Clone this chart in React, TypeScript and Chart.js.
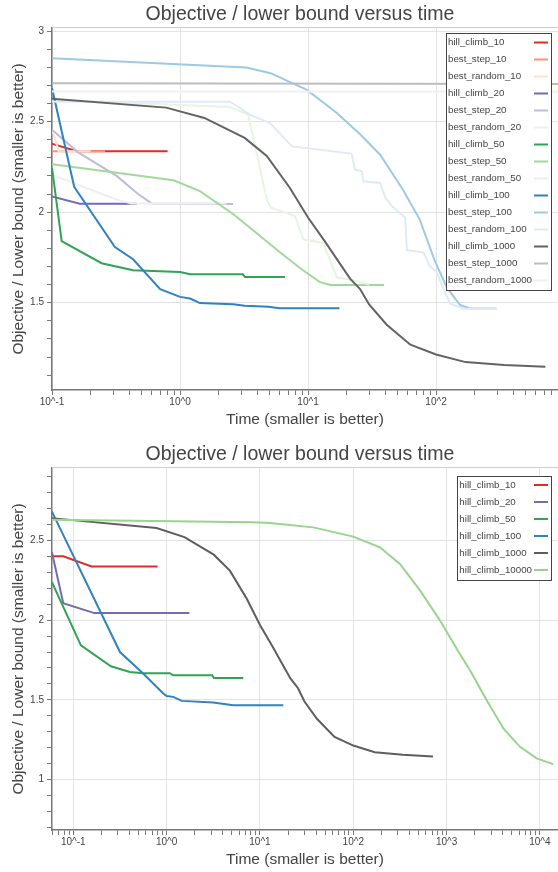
import React, { useEffect, useRef } from 'react';
import { Chart, registerables } from 'chart.js';

Chart.register(...registerables);

const FONT = "'Liberation Sans', Arial, Helvetica, sans-serif";

// ---------- top chart data ----------
const timeHc10 = [0.059, 0.078, 0.157, 0.8];
const valHc10 = [2.4, 2.4, 2.336, 2.336];
const timeBs10 = [0.1, 0.26];
const valBs10 = [2.336, 2.336];
const timeBr10 = [0.1, 0.113, 0.2];
const valBr10 = [2.455, 2.336, 2.336];
const timeHc20Top = [0.059, 0.078, 0.165, 0.46];
const valHc20Top = [2.425, 2.106, 2.046, 2.046];
const timeBs20 = [0.1, 0.16, 0.32, 0.47, 0.6, 2.6];
const valBs20 = [2.455, 2.33, 2.2, 2.1, 2.048, 2.045];
const timeBr20 = [0.1, 0.17, 0.32, 0.42, 2.3];
const valBr20 = [2.207, 2.143, 2.07, 2.048, 2.048];
const timeHc50Top = [0.1, 0.119, 0.244, 0.43, 1.0, 1.2, 3.09, 3.22, 6.6];
const valHc50Top = [2.245, 1.84, 1.718, 1.679, 1.67, 1.657, 1.657, 1.642, 1.642];
const timeBs50 = [0.1, 0.89, 1.43, 2.6, 4.2, 6.0, 8.7, 12.3, 14.9, 39.3];
const valBs50 = [2.264, 2.176, 2.116, 1.99, 1.87, 1.78, 1.69, 1.615, 1.598, 1.598];
const timeBr50 = [0.1, 2.46, 3.4, 4.8, 5.1, 7.9, 9.2, 13.1, 16.8, 24, 30];
const valBr50 = [2.62, 2.58, 2.54, 2.06, 2.024, 1.98, 1.85, 1.83, 1.64, 1.62, 1.6];
const timeHc100Top = [0.1, 0.149, 0.31, 0.43, 0.7, 1.0, 1.2, 1.43, 2.6, 3.2, 4.9, 6.0, 17.6];
const valHc100Top = [2.685, 2.14, 1.807, 1.74, 1.575, 1.532, 1.523, 1.498, 1.492, 1.483, 1.477, 1.47, 1.47];
const timeBs100 = [0.1, 3.3, 5.1, 9.8, 16.8, 25.5, 36.6, 55, 74.5, 98, 121, 154, 185, 296];
const valBs100 = [2.85, 2.798, 2.767, 2.675, 2.547, 2.43, 2.317, 2.125, 1.96, 1.73, 1.586, 1.487, 1.468, 1.468];
const timeBr100 = [0.1, 2.46, 3.5, 5.06, 7.5, 21.9, 23.3, 26.3, 27.1, 36.6, 40.2, 45.4, 57.4, 59.2, 80, 89, 101, 114, 129, 164, 296];
const valBr100 = [2.61, 2.61, 2.54, 2.49, 2.363, 2.323, 2.235, 2.226, 2.17, 2.161, 2.079, 2.033, 1.97, 1.79, 1.777, 1.703, 1.67, 1.58, 1.495, 1.466, 1.466];
const timeHc1000 = [0.059, 0.092, 0.78, 1.55, 3.2, 4.76, 7.2, 10, 13.5, 17, 21.3, 25.5, 30, 41, 63, 100, 170, 340, 715];
const valHc1000 = [2.638, 2.628, 2.577, 2.52, 2.41, 2.31, 2.135, 1.97, 1.84, 1.735, 1.633, 1.575, 1.49, 1.38, 1.268, 1.214, 1.172, 1.156, 1.146];
const timeBs1000 = [0.1, 1000];
const valBs1000 = [2.712, 2.707];
const timeBr1000 = [0.1, 1000];
const valBr1000 = [2.666, 2.664];

// ---------- bottom chart data ----------
const timeHc20Bot = [0.059, 0.078, 0.168, 1.75];
const valHc20Bot = [2.425, 2.106, 2.044, 2.044];
const timeHc50Bot = [0.059, 0.1206, 0.253, 0.404, 0.561, 1.08, 1.177, 3.08, 3.21, 6.62];
const valHc50Bot = [2.238, 1.842, 1.711, 1.675, 1.667, 1.667, 1.654, 1.654, 1.6375, 1.6375];
const timeHc100Bot = [0.059, 0.316, 0.56, 0.92, 1.0, 1.18, 1.45, 3.16, 5.17, 17.8];
const valHc100Bot = [2.68, 1.8, 1.665, 1.54, 1.525, 1.519, 1.494, 1.484, 1.467, 1.467];
const timeHc10000 = [0.059, 8.5, 12.8, 37.3, 100, 193, 316, 519, 851, 1283, 1782, 2690, 4060, 6120, 9240, 13900];
const valHc10000 = [2.628, 2.6125, 2.609, 2.581, 2.523, 2.456, 2.352, 2.186, 1.998, 1.82, 1.686, 1.498, 1.321, 1.206, 1.134, 1.098];

// ---------- labels & colours ----------
const TITLE = 'Objective / lower bound versus time';
const X_TITLE = 'Time (smaller is better)';
const Y_TITLE = 'Objective / Lower bound (smaller is better)';

type Series = { label: string; color: string; t: number[]; v: number[] };

const topSeries: Series[] = [
  { label: 'hill_climb_10', color: '#de2d26', t: timeHc10, v: valHc10 },
  { label: 'best_step_10', color: '#fc9272', t: timeBs10, v: valBs10 },
  { label: 'best_random_10', color: '#fee0d2', t: timeBr10, v: valBr10 },
  { label: 'hill_climb_20', color: '#756bb1', t: timeHc20Top, v: valHc20Top },
  { label: 'best_step_20', color: '#bcbddc', t: timeBs20, v: valBs20 },
  { label: 'best_random_20', color: '#efedf5', t: timeBr20, v: valBr20 },
  { label: 'hill_climb_50', color: '#31a354', t: timeHc50Top, v: valHc50Top },
  { label: 'best_step_50', color: '#a1d99b', t: timeBs50, v: valBs50 },
  { label: 'best_random_50', color: '#e5f5e0', t: timeBr50, v: valBr50 },
  { label: 'hill_climb_100', color: '#3182bd', t: timeHc100Top, v: valHc100Top },
  { label: 'best_step_100', color: '#9ecae1', t: timeBs100, v: valBs100 },
  { label: 'best_random_100', color: '#deebf7', t: timeBr100, v: valBr100 },
  { label: 'hill_climb_1000', color: '#636363', t: timeHc1000, v: valHc1000 },
  { label: 'best_step_1000', color: '#bdbdbd', t: timeBs1000, v: valBs1000 },
  { label: 'best_random_1000', color: '#f0f0f0', t: timeBr1000, v: valBr1000 },
];

const bottomSeries: Series[] = [
  { label: 'hill_climb_10', color: '#de2d26', t: timeHc10, v: valHc10 },
  { label: 'hill_climb_20', color: '#756bb1', t: timeHc20Bot, v: valHc20Bot },
  { label: 'hill_climb_50', color: '#31a354', t: timeHc50Bot, v: valHc50Bot },
  { label: 'hill_climb_100', color: '#3182bd', t: timeHc100Bot, v: valHc100Bot },
  { label: 'hill_climb_1000', color: '#5e5e5e', t: timeHc1000, v: valHc1000 },
  { label: 'hill_climb_10000', color: '#98d48e', t: timeHc10000, v: valHc10000 },
];

// ---------- helpers ----------
const isPow10 = (v: number) => {
  if (!(v > 0)) return false;
  const l = Math.log10(v);
  return Math.abs(l - Math.round(l)) < 1e-9;
};

function logTicks(min: number, max: number) {
  const out: number[] = [];
  for (let e = Math.floor(Math.log10(min)); e <= Math.ceil(Math.log10(max)); e++) {
    for (let m = 1; m <= 9; m++) {
      const v = m * Math.pow(10, e);
      if (v >= min * (1 - 1e-9) && v <= max) out.push(v);
    }
  }
  return out;
}

function linTicks(min: number, max: number) {
  const out: number[] = [];
  for (let k = Math.ceil(min * 10 - 1e-9); k <= Math.floor(max * 10 + 1e-9); k++) out.push(Math.round(k) / 10);
  return out;
}
const isHalf = (v: number) => Math.abs(v * 2 - Math.round(v * 2)) < 1e-6;

const decorPlugin = {
  id: 'decor',
  afterDraw(chart: any, _args: any, opts: any) {
    const ctx = chart.ctx;
    const a = chart.chartArea;
    ctx.save();
    // top outline
    ctx.strokeStyle = '#cfcfcf';
    ctx.lineWidth = 1;
    ctx.beginPath();
    ctx.moveTo(a.left, Math.round(a.top) - 0.5);
    ctx.lineTo(a.right, Math.round(a.top) - 0.5);
    ctx.stroke();
    // title
    ctx.fillStyle = '#444';
    ctx.font = `19.5px ${FONT}`;
    ctx.textAlign = 'center';
    ctx.textBaseline = 'middle';
    ctx.fillText(TITLE, opts.titleX, opts.titleY);
    // legend
    const ds = chart.data.datasets;
    ctx.font = `9.75px ${FONT}`;
    let maxW = 0;
    ds.forEach((d: any) => { maxW = Math.max(maxW, ctx.measureText(d.label).width); });
    const right = opts.legendRight;
    const top = opts.legendTop;
    const sampleW = 14;
    const left = right - 3 - sampleW - 2 - maxW - 2;
    const h = ds.length * 17 + 2;
    ctx.fillStyle = '#ffffff';
    ctx.fillRect(left, top, right - left, h);
    ctx.strokeStyle = '#444';
    ctx.lineWidth = 1;
    ctx.strokeRect(Math.round(left) + 0.5, Math.round(top) + 0.5, Math.round(right - left), Math.round(h));
    ds.forEach((d: any, i: number) => {
      const y = top + 9.5 + i * 17;
      ctx.fillStyle = '#444';
      ctx.textAlign = 'left';
      ctx.textBaseline = 'middle';
      ctx.fillText(d.label, left + 2, y);
      ctx.strokeStyle = d.borderColor;
      ctx.lineWidth = 2;
      ctx.beginPath();
      ctx.moveTo(right - 3 - sampleW, y);
      ctx.lineTo(right - 3, y);
      ctx.stroke();
    });
    ctx.restore();
  },
};

function buildConfig(series: Series[], xMin: number, xMax: number, yMin: number, yMax: number, legendTop: number) {
  const n = series.length;
  return {
    type: 'line' as const,
    data: {
      datasets: series.map((s, i) => ({
        label: s.label,
        data: s.t.map((t, k) => ({ x: t, y: s.v[k] })),
        borderColor: s.color,
        backgroundColor: s.color,
        borderWidth: 2,
        pointRadius: 0,
        tension: 0,
        fill: false,
        order: n - i,
      })),
    },
    options: {
      animation: false,
      responsive: false,
      maintainAspectRatio: false,
      parsing: true,
      layout: { padding: { top: 28, left: 0, right: 0, bottom: 0 } },
      plugins: {
        legend: { display: false },
        title: { display: false },
        tooltip: { enabled: false },
        decor: { titleX: 300, titleY: 15, legendRight: 551, legendTop },
      },
      scales: {
        x: {
          type: 'logarithmic',
          min: xMin,
          max: xMax,
          bounds: 'data',
          afterBuildTicks: (scale: any) => {
            scale.ticks = logTicks(xMin, xMax).map((v) => ({ value: v, major: isPow10(v) }));
          },
          afterFit: (scale: any) => {
            scale.height = 50;
            scale.paddingLeft = 0;
            scale.paddingRight = 0;
            scale.paddingTop = 0;
            scale.paddingBottom = 0;
          },
          ticks: {
            autoSkip: false,
            maxRotation: 0,
            minRotation: 0,
            padding: 1,
            color: '#444',
            font: { size: 10, family: FONT },
            callback: (val: any) => {
              const v = Number(val);
              return isPow10(v) ? '10^' + Math.round(Math.log10(v)) : '';
            },
          },
          grid: {
            color: (c: any) => (c.tick && isPow10(c.tick.value) ? '#e2e2e2' : 'rgba(0,0,0,0)'),
            tickColor: '#777',
            tickLength: 5,
            drawTicks: true,
            lineWidth: 1,
          },
          border: { color: '#777', width: 1.5 },
          title: {
            display: true,
            text: X_TITLE,
            color: '#444',
            font: { size: 15.5, family: FONT },
            padding: { top: 0, bottom: 10.7 },
          },
        },
        y: {
          type: 'linear',
          min: yMin,
          max: yMax,
          bounds: 'data',
          afterBuildTicks: (scale: any) => {
            scale.ticks = linTicks(yMin, yMax).map((v) => ({ value: v }));
          },
          afterFit: (scale: any) => {
            scale.width = 52;
            scale.paddingTop = 0;
            scale.paddingBottom = 0;
            scale.paddingLeft = 0;
            scale.paddingRight = 0;
          },
          ticks: {
            autoSkip: false,
            padding: 3,
            color: '#444',
            font: { size: 10, family: FONT },
            callback: (val: any) => {
              const v = Number(val);
              return isHalf(v) ? String(Math.round(v * 2) / 2) : '';
            },
          },
          grid: {
            color: (c: any) => (c.tick && isHalf(c.tick.value) ? '#e2e2e2' : 'rgba(0,0,0,0)'),
            tickColor: '#777',
            tickLength: 5,
            drawTicks: true,
            lineWidth: 1,
          },
          border: { color: '#777', width: 1.5 },
          title: {
            display: true,
            text: Y_TITLE,
            color: '#444',
            font: { size: 15.5, family: FONT },
            padding: { top: 9.7, bottom: 0 },
          },
        },
      },
    },
    plugins: [decorPlugin],
  };
}

export default function App() {
  const topRef = useRef<HTMLCanvasElement | null>(null);
  const botRef = useRef<HTMLCanvasElement | null>(null);

  useEffect(() => {
    const charts: Chart[] = [];
    if (topRef.current) {
      charts.push(new Chart(topRef.current, buildConfig(topSeries, 0.1, 897, 1.018, 3.0166, 33) as any));
    }
    if (botRef.current) {
      charts.push(new Chart(botRef.current, buildConfig(bottomSeries, 0.0591, 15630, 0.685, 2.953, 35.5) as any));
    }
    return () => charts.forEach((c) => c.destroy());
  }, []);

  return (
    <div
      style={{
        position: 'fixed',
        left: 0,
        top: 0,
        width: 558,
        height: 872,
        overflow: 'hidden',
        background: '#fff',
      }}
    >
      <canvas ref={topRef} width={558} height={440} style={{ position: 'absolute', left: 0, top: 0, width: 558, height: 440 }} />
      <canvas ref={botRef} width={558} height={440} style={{ position: 'absolute', left: 0, top: 440, width: 558, height: 440 }} />
    </div>
  );
}
